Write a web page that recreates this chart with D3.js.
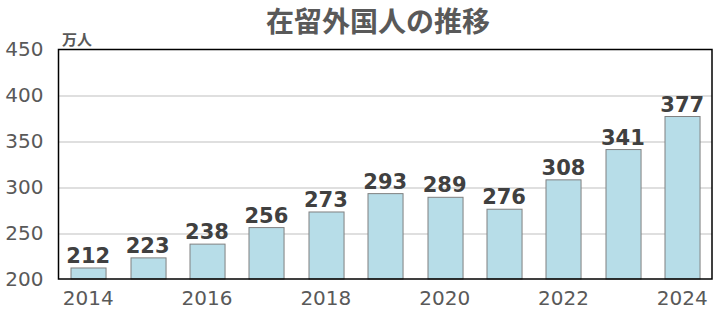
<!DOCTYPE html>
<html>
<head>
<meta charset="utf-8">
<script src="https://cdn.jsdelivr.net/npm/d3@7"></script>
<style>
  body { margin: 0; background: #fff; }
  svg { display: block; }
</style>
</head>
<body>
<div id="chart"></div>
<script>
// data
const years = [2014, 2015, 2016, 2017, 2018, 2019, 2020, 2021, 2022, 2023, 2024];
const residents = [212, 223, 238, 256, 273, 293, 289, 276, 308, 341, 377];
const yTicks = [200, 250, 300, 350, 400, 450];
const xTickYears = [2014, 2016, 2018, 2020, 2022, 2024];

const W = 714, H = 323;
const margin = { top: 49.5, right: 2, bottom: 44, left: 58.5 };
const width = W - margin.left - margin.right;
const height = H - margin.top - margin.bottom;

const svg = d3.select("#chart").append("svg")
  .attr("width", W)
  .attr("height", H);

svg.append("text")
  .attr("x", 378)
  .attr("y", 32)
  .attr("text-anchor", "middle")
  .attr("font-family", "'Noto Sans CJK JP', sans-serif")
  .attr("font-weight", "bold")
  .attr("font-size", 28)
  .attr("fill", "#595959")
  .text("在留外国人の推移");

svg.append("text")
  .attr("x", 62)
  .attr("y", 45)
  .attr("font-family", "'Noto Sans CJK JP', sans-serif")
  .attr("font-weight", "bold")
  .attr("font-size", 15)
  .attr("fill", "#595959")
  .text("万人");

const g = svg.append("g")
  .attr("transform", `translate(${margin.left},${margin.top})`);

const x = d3.scaleBand()
  .domain(years)
  .range([0, width])
  .paddingInner(0.41)
  .paddingOuter(0.205);

const y = d3.scaleLinear()
  .domain([200, 450])
  .range([height, 0]);

// gridlines
g.selectAll(".grid")
  .data(yTicks.filter(d => d > 200 && d < 450))
  .enter().append("line")
  .attr("x1", 0)
  .attr("x2", width)
  .attr("y1", d => Math.round(y(d)) + 0.5)
  .attr("y2", d => Math.round(y(d)) + 0.5)
  .attr("stroke", "#bfbfbf")
  .attr("stroke-width", 1);

// bars
g.selectAll(".bar")
  .data(years)
  .enter().append("rect")
  .attr("x", d => Math.round(x(d)) + 0.5)
  .attr("y", (d, i) => y(residents[i]))
  .attr("width", x.bandwidth())
  .attr("height", (d, i) => height - y(residents[i]))
  .attr("fill", "#b7dde8")
  .attr("stroke", "#808080")
  .attr("stroke-width", 1);

// value labels
g.selectAll(".val")
  .data(years)
  .enter().append("text")
  .attr("x", d => x(d) + x.bandwidth() / 2)
  .attr("y", (d, i) => y(residents[i]) - 5)
  .attr("text-anchor", "middle")
  .attr("font-family", "'DejaVu Sans', Verdana, sans-serif")
  .attr("font-weight", "bold")
  .attr("font-size", 21)
  .attr("fill", "#404040")
  .text((d, i) => residents[i]);

// plot frame
g.append("rect")
  .attr("x", 0)
  .attr("y", 0)
  .attr("width", width)
  .attr("height", height)
  .attr("fill", "none")
  .attr("stroke", "#000")
  .attr("stroke-width", 1.5);

// y axis labels
const yAxis = d3.axisLeft(y).tickValues(yTicks).tickSize(0).tickPadding(15);
g.append("g")
  .call(yAxis)
  .call(s => s.select(".domain").remove())
  .selectAll("text")
  .attr("font-family", "'DejaVu Sans', Verdana, sans-serif")
  .attr("font-size", 20)
  .attr("fill", "#595959");

// x axis labels
const xAxis = d3.axisBottom(x).tickValues(xTickYears).tickSize(0).tickPadding(12);
g.append("g")
  .attr("transform", `translate(0,${height})`)
  .call(xAxis)
  .call(s => s.select(".domain").remove())
  .selectAll("text")
  .attr("font-family", "'DejaVu Sans', Verdana, sans-serif")
  .attr("font-size", 20)
  .attr("fill", "#595959");
</script>
</body>
</html>
